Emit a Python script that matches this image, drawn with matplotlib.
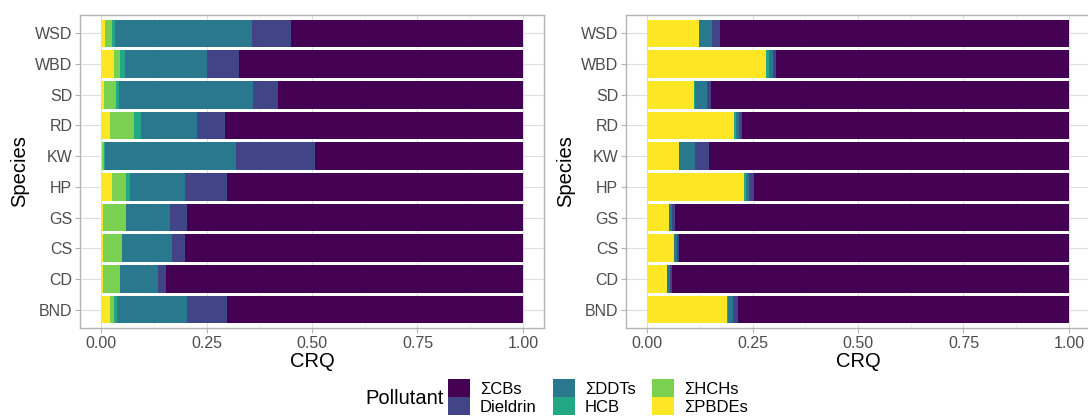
import matplotlib
matplotlib.use("Agg")
import matplotlib.pyplot as plt
from matplotlib.patches import Patch
import numpy as np

plt.rcParams['font.family'] = ['Liberation Sans', 'DejaVu Sans']

species = ["BND", "CD", "CS", "GS", "HP", "KW", "RD", "SD", "WBD", "WSD"]
pollutants = ["ΣCBs", "Dieldrin", "ΣDDTs", "HCB", "ΣHCHs", "ΣPBDEs"]
colors = ["#440154", "#414487", "#2A788E", "#22A884", "#7AD151", "#FDE725"]

# Left panel (values per species, order as in `species`)
left_pbde = [0.021, 0.005, 0.005, 0.005, 0.027, 0.003, 0.020, 0.008, 0.030, 0.010]
left_hch = [0.009, 0.040, 0.044, 0.053, 0.033, 0.003, 0.059, 0.028, 0.016, 0.016]
left_hcb = [0.007, 0.001, 0.001, 0.002, 0.008, 0.004, 0.015, 0.006, 0.010, 0.008]
left_ddt = [0.167, 0.089, 0.119, 0.103, 0.132, 0.311, 0.134, 0.319, 0.196, 0.324]
left_dieldrin = [0.095, 0.020, 0.030, 0.040, 0.099, 0.186, 0.066, 0.058, 0.075, 0.093]
left_cbs = [0.701, 0.845, 0.801, 0.797, 0.701, 0.493, 0.706, 0.581, 0.673, 0.549]

# Right panel
right_pbde = [0.189, 0.048, 0.063, 0.052, 0.229, 0.076, 0.207, 0.112, 0.283, 0.122]
right_hch = [0.000, 0.000, 0.000, 0.000, 0.000, 0.000, 0.000, 0.000, 0.000, 0.000]
right_hcb = [0.002, 0.000, 0.000, 0.000, 0.005, 0.000, 0.004, 0.002, 0.005, 0.002]
right_ddt = [0.012, 0.007, 0.007, 0.008, 0.007, 0.038, 0.008, 0.029, 0.010, 0.031]
right_dieldrin = [0.012, 0.004, 0.006, 0.006, 0.012, 0.033, 0.006, 0.008, 0.008, 0.018]
right_cbs = [0.785, 0.941, 0.924, 0.934, 0.747, 0.853, 0.775, 0.849, 0.694, 0.827]

xticks = [0.0, 0.25, 0.5, 0.75, 1.0]
xticklabels = ["0.00", "0.25", "0.50", "0.75", "1.00"]

W, H = 1088, 420
fig = plt.figure(figsize=(W / 100, H / 100), dpi=100)

def px_axes(x0, y0, x1, y1):
    return fig.add_axes([x0 / W, 1 - y1 / H, (x1 - x0) / W, (y1 - y0) / H])

ax_l = px_axes(80, 15, 544, 328)
ax_r = px_axes(626, 15, 1090, 328)

def draw(ax, pbde, hch, hcb, ddt, dieldrin, cbs):
    y = np.arange(len(species))
    # stacking order from 0: PBDE, HCH, HCB, DDT, Dieldrin, CBs
    stack = [(pbde, colors[5]), (hch, colors[4]), (hcb, colors[3]),
             (ddt, colors[2]), (dieldrin, colors[1]), (cbs, colors[0])]
    left = np.zeros(len(species))
    for vals, c in stack:
        v = np.array(vals)
        ax.barh(y, v, left=left, height=0.9, color=c, edgecolor='none', zorder=3)
        left = left + v
    ax.set_xlim(-0.05, 1.05)
    ax.set_ylim(-0.6, len(species) - 0.4)
    ax.set_yticks(y)
    ax.set_yticklabels(species)
    ax.set_xticks(xticks)
    ax.set_xticklabels(xticklabels)
    ax.set_xticks([0.125, 0.375, 0.625, 0.875], minor=True)
    ax.grid(True, which='major', color='#DEDEDE', lw=0.8, zorder=0)
    ax.grid(True, which='minor', axis='x', color='#EDEDED', lw=0.5, zorder=0)
    ax.tick_params(axis='both', which='major', labelsize=11.5, labelcolor='#4D4D4D',
                   color='#B3B3B3', length=3.5, width=0.8, pad=2)
    ax.tick_params(axis='both', which='minor', length=0)
    for s in ax.spines.values():
        s.set_color('#B3B3B3')
        s.set_linewidth(1.0)
    ax.set_xlabel("CRQ", fontsize=14.5, color='black', labelpad=1)
    ax.set_ylabel("Species", fontsize=14.5, color='black', labelpad=4)
    ax.set_axisbelow(True)

draw(ax_l, left_pbde, left_hch, left_hcb, left_ddt, left_dieldrin, left_cbs)
draw(ax_r, right_pbde, right_hch, right_hcb, right_ddt, right_dieldrin, right_cbs)

handles = [Patch(facecolor=c, edgecolor='none') for c in colors]
fig.text(405 / W, 1 - 398 / H, "Pollutant", fontsize=14.5, ha='center', va='center')
fig.legend(handles, pollutants, ncol=3, loc='center left',
           bbox_to_anchor=(448 / W, 1 - 397 / H), frameon=False,
           fontsize=12, handlelength=1.3, handleheight=1.3, handletextpad=0.6,
           columnspacing=1.0, labelspacing=0.0, borderpad=0, borderaxespad=0)

fig.savefig("out.png", dpi=100)
